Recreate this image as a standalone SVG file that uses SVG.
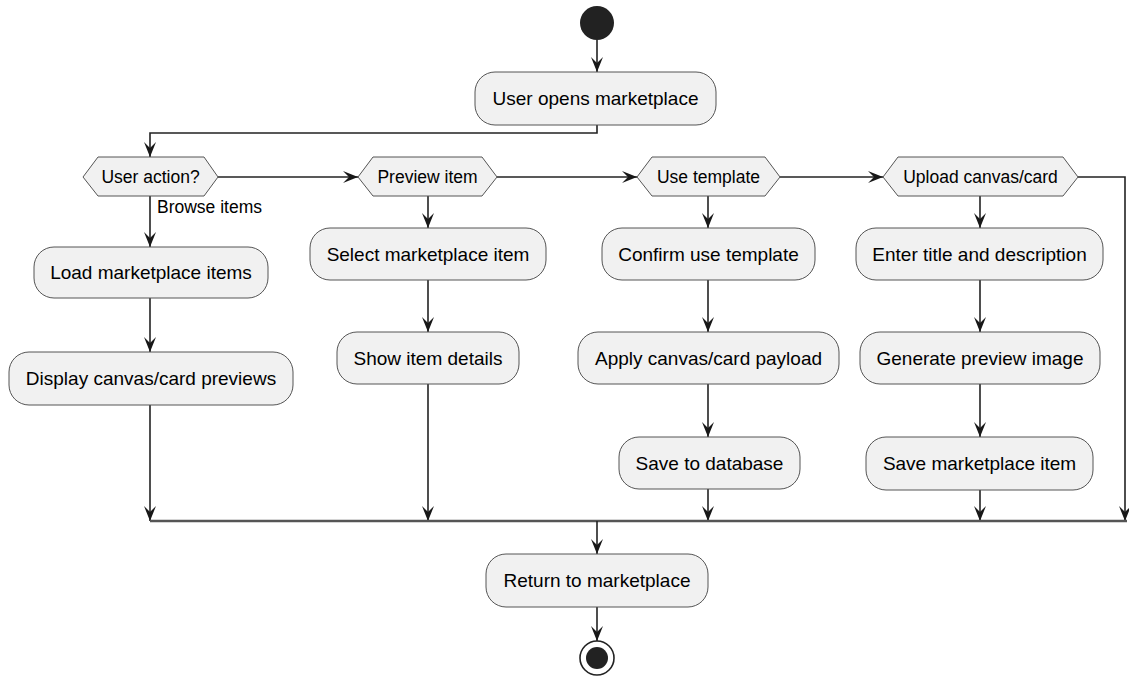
<svg xmlns="http://www.w3.org/2000/svg" width="1129" height="677" viewBox="0 0 1129 677">
  <defs>
    <marker id="arrow" markerUnits="userSpaceOnUse" markerWidth="16" markerHeight="13" refX="15" refY="6" orient="auto">
      <path d="M0,0 L15,6 L0,12 L6,6 Z" fill="#181818"/>
    </marker>
    <style>
      .box { fill: #F1F1F1; stroke: #555; stroke-width: 1; }
      .hex { fill: #F1F1F1; stroke: #555; stroke-width: 1; }
      .lbl { font-family: "Liberation Sans", Arial, sans-serif; font-size: 19px; fill: #000; text-anchor: middle; }
      .hlbl { font-family: "Liberation Sans", Arial, sans-serif; font-size: 17.5px; fill: #000; text-anchor: middle; }
      .elbl { font-family: "Liberation Sans", Arial, sans-serif; font-size: 17.5px; fill: #000; }
      .edge-a { fill: none; stroke: #222; stroke-width: 1.6; marker-end: url(#arrow); }
      .bar { fill: none; stroke: #555; stroke-width: 2.4; }
    </style>
  </defs>

  <!-- connectors -->
  <g id="connectors">
    <path class="edge-a" d="M597,40 L597,72"/>
    <path class="edge-a" d="M597,125 L597,133 L150,133 L150,157"/>
    <path class="edge-a" d="M218,177 L358,177"/>
    <path class="edge-a" d="M497,177 L637,177"/>
    <path class="edge-a" d="M780,177 L883,177"/>
    <path class="edge-a" d="M1078,177 L1125,177 L1125,521"/>

    <path class="edge-a" d="M150,196 L150,247"/>
    <text class="elbl" x="157" y="213">Browse items</text>
    <path class="edge-a" d="M150,298 L150,352"/>
    <path class="edge-a" d="M150,405 L150,521"/>

    <path class="edge-a" d="M428,196 L428,228"/>
    <path class="edge-a" d="M428,280 L428,332"/>
    <path class="edge-a" d="M428,384 L428,521"/>

    <path class="edge-a" d="M708,196 L708,228"/>
    <path class="edge-a" d="M708,280 L708,332"/>
    <path class="edge-a" d="M708,384 L708,437"/>
    <path class="edge-a" d="M708,489 L708,521"/>

    <path class="edge-a" d="M980,196 L980,228"/>
    <path class="edge-a" d="M980,280 L980,332"/>
    <path class="edge-a" d="M980,384 L980,437"/>
    <path class="edge-a" d="M980,490 L980,521"/>

    <path class="bar" d="M150,521 L1127,521"/>
    <path class="edge-a" d="M597,521 L597,554"/>
    <path class="edge-a" d="M597,607 L597,641"/>
  </g>

  <!-- start / end -->
  <g id="start">
    <circle cx="597" cy="23" r="17" fill="#222"/>
  </g>
  <g id="end">
    <circle cx="597" cy="658" r="17" fill="none" stroke="#222" stroke-width="1.6"/>
    <circle cx="597" cy="658" r="11" fill="#222"/>
  </g>

  <g id="open">
    <rect class="box" x="475" y="72" width="241" height="53" rx="20"/>
    <text class="lbl" x="595.5" y="105">User opens marketplace</text>
  </g>

  <!-- decisions -->
  <g id="d-action">
    <polygon class="hex" points="83,177 98,157 204,157 218,177 204,196 98,196"/>
    <text class="hlbl" x="150.5" y="183">User action?</text>
  </g>
  <g id="d-preview">
    <polygon class="hex" points="358,177 373,157 482,157 497,177 482,196 373,196"/>
    <text class="hlbl" x="427.5" y="183">Preview item</text>
  </g>
  <g id="d-template">
    <polygon class="hex" points="637,177 652,157 765,157 780,177 765,196 652,196"/>
    <text class="hlbl" x="708.5" y="183">Use template</text>
  </g>
  <g id="d-upload">
    <polygon class="hex" points="883,177 898,157 1063,157 1078,177 1063,196 898,196"/>
    <text class="hlbl" x="980.5" y="183">Upload canvas/card</text>
  </g>

  <!-- browse branch -->
  <g id="load">
    <rect class="box" x="34" y="247" width="234" height="51" rx="20"/>
    <text class="lbl" x="151" y="279">Load marketplace items</text>
  </g>
  <g id="display">
    <rect class="box" x="9" y="352" width="284" height="53" rx="20"/>
    <text class="lbl" x="151" y="385">Display canvas/card previews</text>
  </g>

  <!-- preview branch -->
  <g id="select">
    <rect class="box" x="310" y="228" width="236" height="52" rx="20"/>
    <text class="lbl" x="428" y="260.5">Select marketplace item</text>
  </g>
  <g id="details">
    <rect class="box" x="337" y="332" width="182" height="52" rx="20"/>
    <text class="lbl" x="428" y="364.5">Show item details</text>
  </g>

  <!-- template branch -->
  <g id="confirm">
    <rect class="box" x="602" y="228" width="213" height="52" rx="20"/>
    <text class="lbl" x="708.5" y="260.5">Confirm use template</text>
  </g>
  <g id="apply">
    <rect class="box" x="578" y="332" width="261" height="52" rx="20"/>
    <text class="lbl" x="708.5" y="364.5">Apply canvas/card payload</text>
  </g>
  <g id="save-db">
    <rect class="box" x="619" y="437" width="181" height="52" rx="20"/>
    <text class="lbl" x="709.5" y="469.5">Save to database</text>
  </g>

  <!-- upload branch -->
  <g id="enter">
    <rect class="box" x="856" y="228" width="247" height="52" rx="20"/>
    <text class="lbl" x="979.5" y="260.5">Enter title and description</text>
  </g>
  <g id="generate">
    <rect class="box" x="860" y="332" width="240" height="52" rx="20"/>
    <text class="lbl" x="980" y="364.5">Generate preview image</text>
  </g>
  <g id="save-item">
    <rect class="box" x="866" y="437" width="227" height="53" rx="20"/>
    <text class="lbl" x="979.5" y="470">Save marketplace item</text>
  </g>

  <g id="return">
    <rect class="box" x="486" y="554" width="222" height="53" rx="20"/>
    <text class="lbl" x="597" y="587">Return to marketplace</text>
  </g>
</svg>
